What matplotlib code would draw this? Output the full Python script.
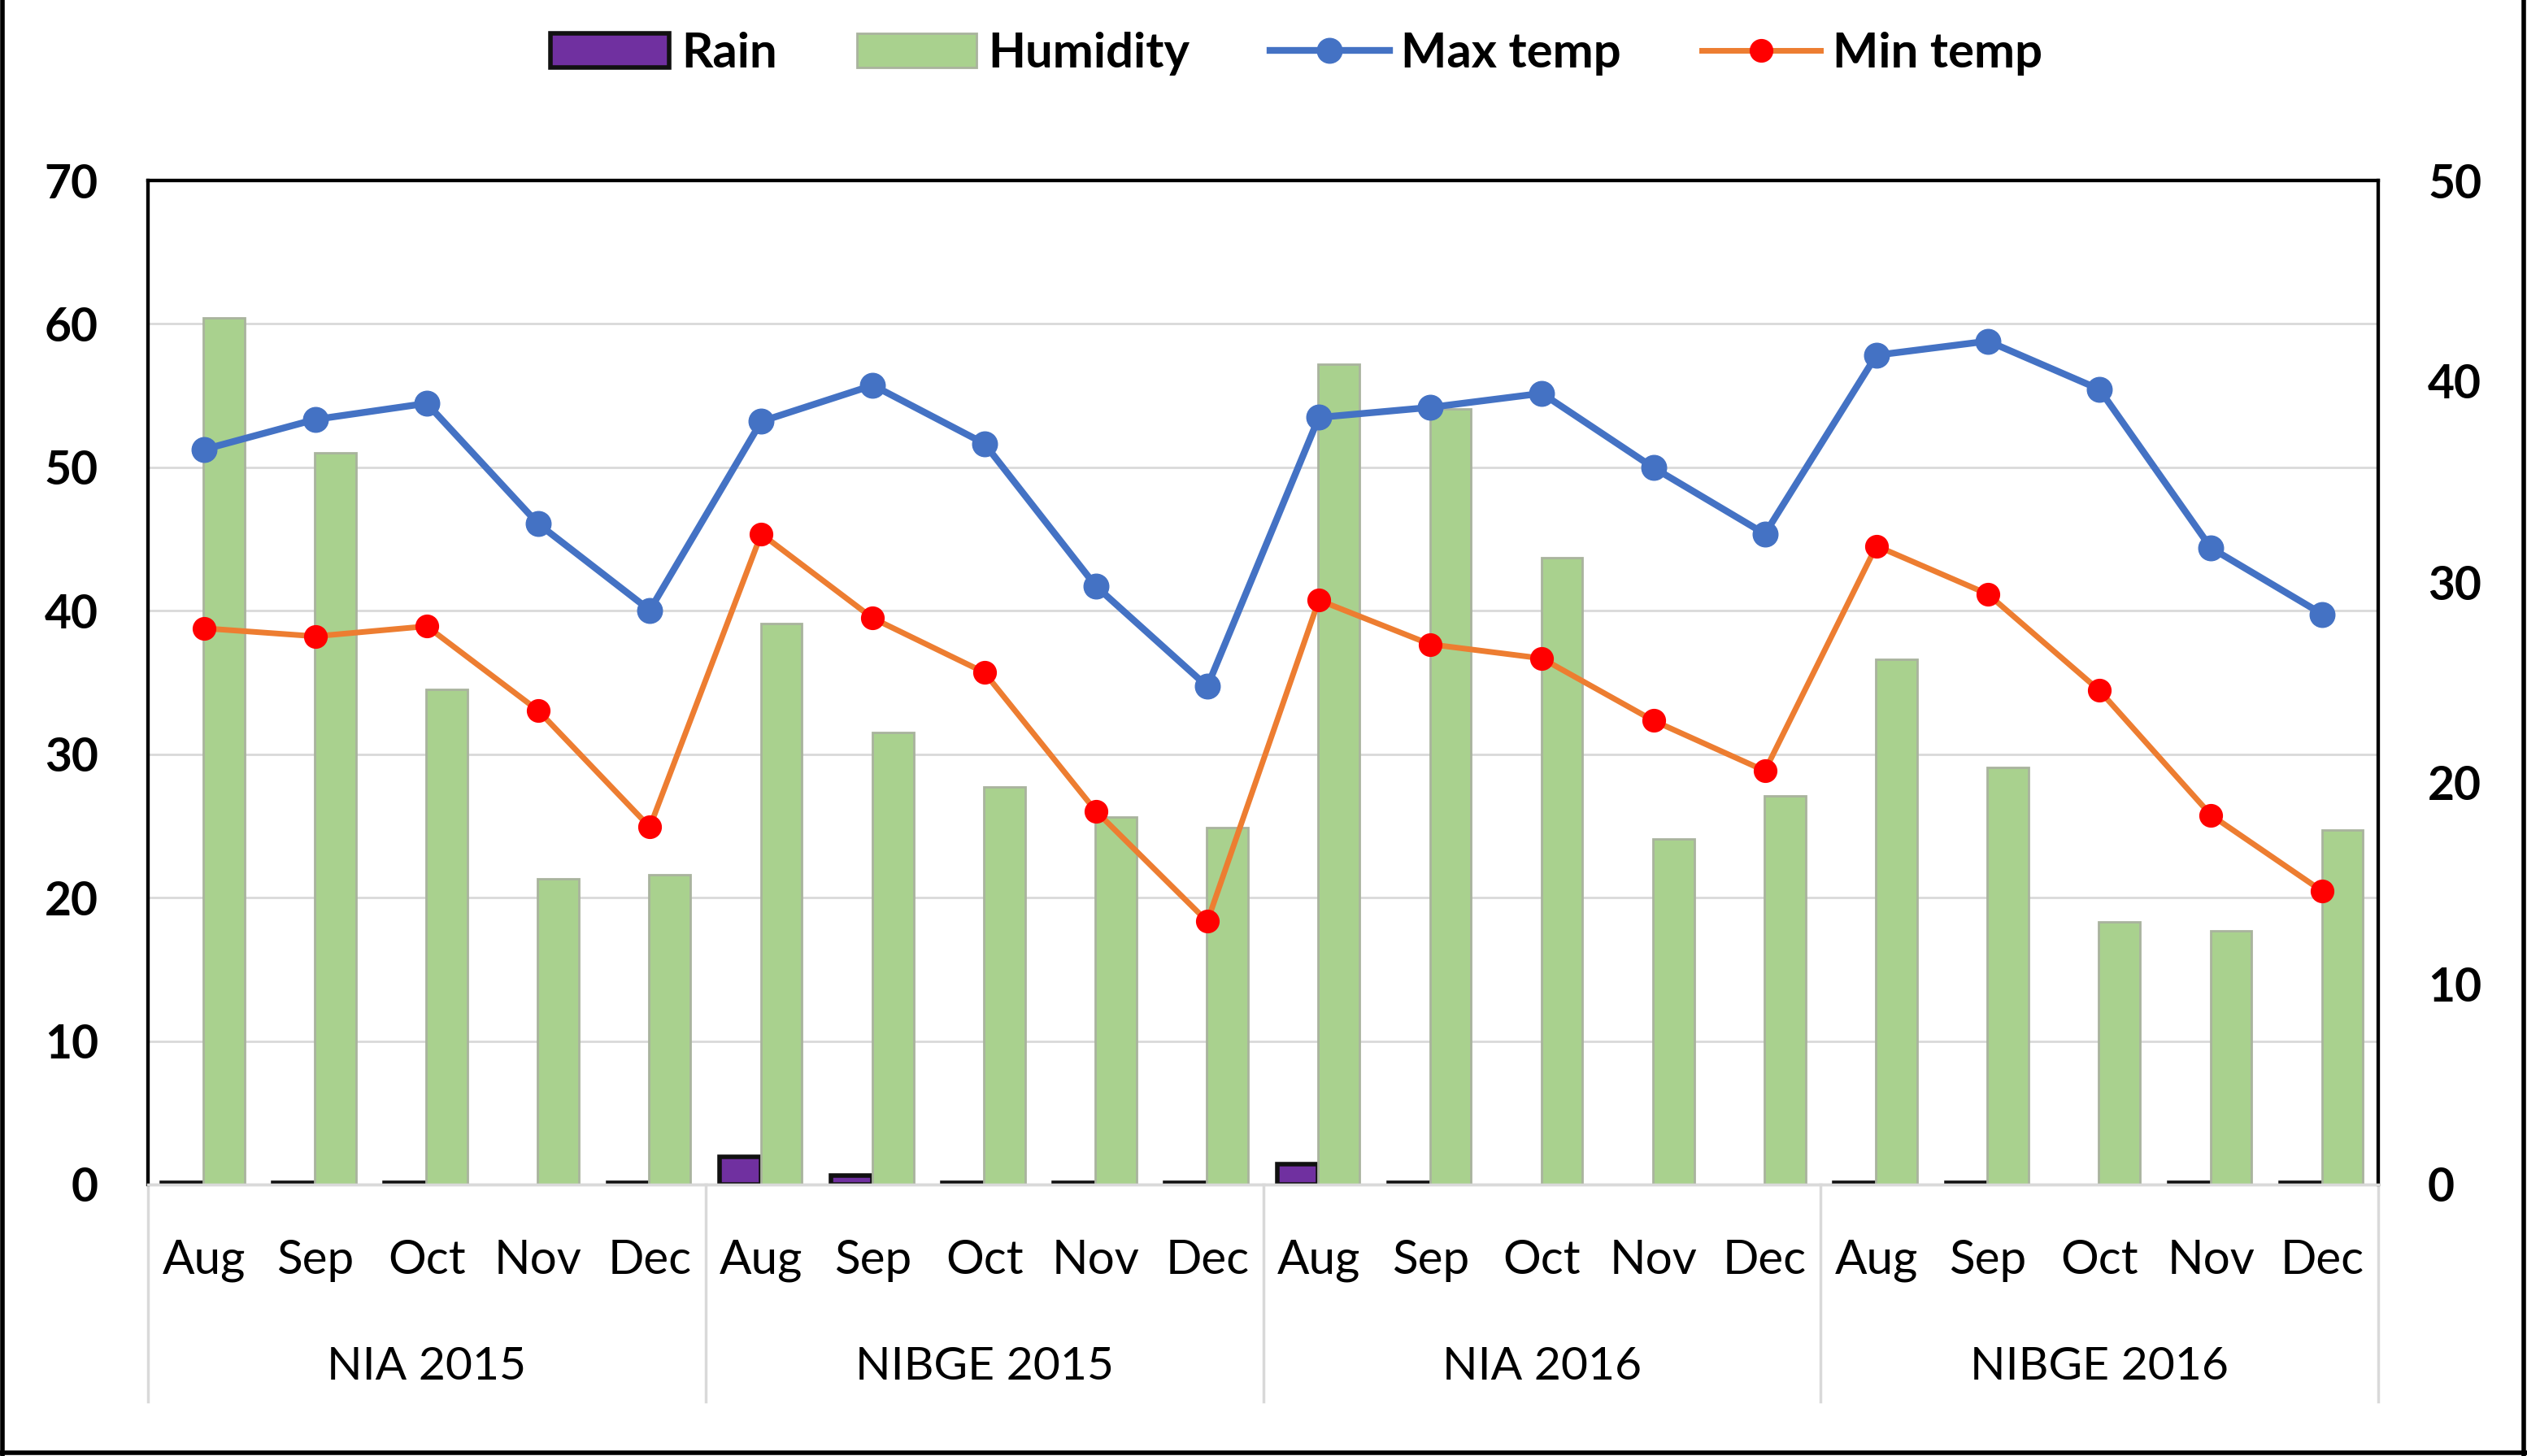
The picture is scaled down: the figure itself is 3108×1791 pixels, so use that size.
import numpy as np
import matplotlib
matplotlib.use("Agg")
import matplotlib.pyplot as plt
from matplotlib.lines import Line2D
from matplotlib.patches import Patch

plt.rcParams['font.family'] = ['Lato', 'DejaVu Sans']

# Data
groups = ["NIA 2015", "NIBGE 2015", "NIA 2016", "NIBGE 2016"]
months = ["Aug", "Sep", "Oct", "Nov", "Dec"]

rain = [0.1, 0.1, 0.1, np.nan, 0.1,
        1.9, 0.6, 0.1, 0.1, 0.1,
        1.4, 0.1, np.nan, np.nan, np.nan,
        0.1, 0.1, np.nan, 0.1, 0.1]
humidity = [60.4, 51.0, 34.5, 21.3, 21.6,
            39.1, 31.5, 27.7, 25.6, 24.9,
            57.2, 54.1, 43.7, 24.1, 27.1,
            36.6, 29.1, 18.3, 17.7, 24.7]
max_temp = [36.6, 38.1, 38.9, 32.9, 28.6,
            38.0, 39.8, 36.9, 29.8, 24.8,
            38.2, 38.7, 39.4, 35.7, 32.4,
            41.3, 42.0, 39.6, 31.7, 28.4]
min_temp = [27.7, 27.3, 27.8, 23.6, 17.8,
            32.4, 28.2, 25.5, 18.6, 13.1,
            29.1, 26.9, 26.2, 23.1, 20.6,
            31.8, 29.4, 24.6, 18.4, 14.6]

x = np.arange(len(humidity))
month_labels = months * len(groups)

fig = plt.figure(figsize=(31.08, 17.91), dpi=100)
ax = fig.add_axes([182 / 3108, 1 - 1457 / 1791, (2925 - 182) / 3108, (1457 - 222) / 1791])
ax2 = ax.twinx()

w = 0.37
ax.bar(x - 0.19, rain, w, color="#7030A0", edgecolor="#111111", linewidth=4, zorder=3)
ax.bar(x + 0.18, humidity, w, color="#A9D18E", edgecolor="#A9B39E", linewidth=2, zorder=3)

ax2.plot(x, max_temp, color="#4472C4", lw=6, marker="o", ms=22,
         mfc="#4472C4", mec="#4472C4", zorder=4)
ax2.plot(x, min_temp, color="#ED7D31", lw=5, marker="o", ms=20,
         mfc="#FF0000", mec="#FF0000", zorder=4)

ax.set_xlim(-0.5, len(x) - 0.5)
ax.set_ylim(0, 70)
ax2.set_ylim(0, 50)
ax.set_yticks(np.arange(0, 71, 10))
ax2.set_yticks(np.arange(0, 51, 10))
ax.set_xticks([])

ax.grid(axis="y", color="#D9D9D9", lw=2, zorder=0)
ax.set_axisbelow(True)

for a in (ax, ax2):
    a.tick_params(axis="y", length=0, labelsize=41, pad=44)
    for lab in a.get_yticklabels():
        lab.set_fontweight("bold")
    for s in ("top", "left", "right"):
        a.spines[s].set_color("black")
        a.spines[s].set_linewidth(3)
    a.spines["bottom"].set_color("#D9D9D9")
    a.spines["bottom"].set_linewidth(2.5)

# month and group labels under the axis
trans = ax.get_xaxis_transform()
for xi, m in zip(x, month_labels):
    ax.text(xi, -0.089, m, transform=trans, ha="center", va="baseline", fontsize=42)
n = len(months)
for i, g in enumerate(groups):
    ax.text(i * n + (n - 1) / 2, -0.194, g, transform=trans, ha="center",
            va="baseline", fontsize=41)
for i in range(len(groups) + 1):
    ax.plot([i * n - 0.5] * 2, [0, -0.216], transform=trans, color="#D9D9D9",
            lw=2.5, clip_on=False)

handles = [Patch(facecolor="#7030A0", edgecolor="#111111", lw=4),
           Patch(facecolor="#A9D18E", edgecolor="#A9B39E", lw=2),
           Line2D([], [], color="#4472C4", lw=6, marker="o", ms=22),
           Line2D([], [], color="#ED7D31", lw=5, marker="o", ms=20,
                  mfc="#FF0000", mec="#FF0000")]
fig.legend(handles, ["Rain", "Humidity", "Max temp", "Min temp"], loc="center",
           bbox_to_anchor=(0.513, 0.963), ncol=4, frameon=False,
           prop={"size": 43, "weight": "bold"}, handlelength=2.45, handleheight=0.7,
           handletextpad=0.25, columnspacing=1.65)

# outer frame (left, right, bottom)
for xs, ys in (([0.001, 0.001], [0, 1]), ([0.9987, 0.9987], [0, 1]), ([0, 1], [0.002, 0.002])):
    fig.add_artist(Line2D(xs, ys, transform=fig.transFigure, color="black", lw=4))

fig.savefig("out.png", dpi=100)
